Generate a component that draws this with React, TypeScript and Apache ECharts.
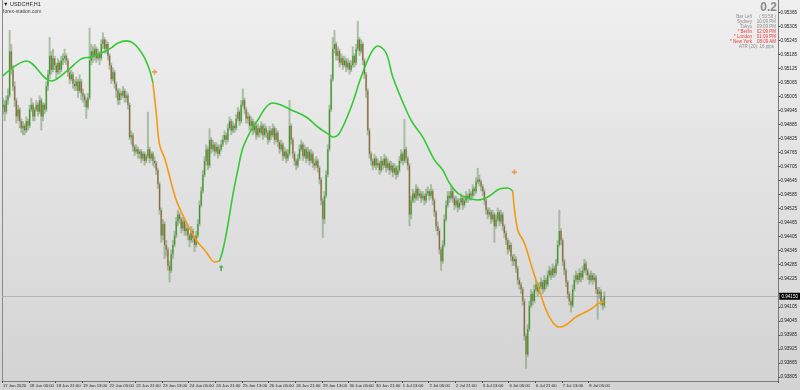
import React, { useEffect, useRef } from 'react';
import * as echarts from 'echarts';

// H1 USDCHF candles (open of each bar = previous close)
const firstOpen = 0.9496;
const closes = [
  0.9497,0.9494,0.9499,0.9501,0.9520,0.9512,0.9505,0.9499,0.9492,0.9495,
  0.9490,0.9487,0.9488,0.9486,0.9490,0.9488,0.9495,0.9497,0.9492,0.9495,
  0.9497,0.9494,0.9499,0.9492,0.9497,0.9495,0.9505,0.9510,0.9518,0.9512,
  0.9517,0.9514,0.9511,0.9515,0.9512,0.9516,0.9517,0.9518,0.9516,0.9511,
  0.9508,0.9510,0.9506,0.9505,0.9507,0.9503,0.9507,0.9502,0.9501,0.9499,
  0.9496,0.9500,0.9516,0.9520,0.9518,0.9521,0.9517,0.9519,0.9517,0.9523,
  0.9525,0.9521,0.9523,0.9518,0.9514,0.9508,0.9511,0.9506,0.9503,0.9499,
  0.9502,0.9501,0.9503,0.9500,0.9501,0.9497,0.9483,0.9484,0.9479,0.9477,
  0.9478,0.9476,0.9477,0.9474,0.9476,0.9473,0.9475,0.9478,0.9474,0.9476,
  0.9473,0.9472,0.9469,0.9463,0.9452,0.9441,0.9446,0.9437,0.9435,0.9428,
  0.9426,0.9433,0.9437,0.9441,0.9447,0.9450,0.9448,0.9444,0.9447,0.9443,
  0.9444,0.9441,0.9439,0.9443,0.9440,0.9437,0.9441,0.9446,0.9454,0.9460,
  0.9467,0.9473,0.9478,0.9471,0.9482,0.9478,0.9480,0.9477,0.9479,0.9476,
  0.9478,0.9480,0.9482,0.9484,0.9482,0.9487,0.9490,0.9486,0.9488,0.9487,
  0.9491,0.9494,0.9490,0.9497,0.9499,0.9495,0.9491,0.9492,0.9488,0.9490,
  0.9486,0.9488,0.9484,0.9487,0.9485,0.9488,0.9484,0.9487,0.9485,0.9482,
  0.9486,0.9484,0.9487,0.9482,0.9485,0.9481,0.9478,0.9480,0.9475,0.9477,
  0.9474,0.9476,0.9488,0.9482,0.9476,0.9473,0.9471,0.9474,0.9478,0.9480,
  0.9475,0.9478,0.9474,0.9477,0.9473,0.9476,0.9472,0.9471,0.9473,0.9470,
  0.9465,0.9456,0.9448,0.9458,0.9467,0.9478,0.9495,0.9508,0.9521,0.9523,
  0.9518,0.9520,0.9515,0.9517,0.9514,0.9516,0.9513,0.9515,0.9512,0.9514,
  0.9518,0.9515,0.9521,0.9525,0.9520,0.9523,0.9516,0.9510,0.9503,0.9486,
  0.9476,0.9473,0.9471,0.9474,0.9471,0.9472,0.9469,0.9473,0.9471,0.9474,
  0.9470,0.9472,0.9469,0.9471,0.9468,0.9470,0.9467,0.9469,0.9473,0.9476,
  0.9473,0.9478,0.9474,0.9471,0.9450,0.9456,0.9459,0.9457,0.9461,0.9458,
  0.9459,0.9457,0.9458,0.9456,0.9459,0.9460,0.9458,0.9460,0.9456,0.9451,
  0.9445,0.9443,0.9435,0.9430,0.9437,0.9448,0.9454,0.9458,0.9457,0.9460,
  0.9457,0.9454,0.9456,0.9453,0.9455,0.9457,0.9454,0.9456,0.9458,0.9457,
  0.9459,0.9458,0.9461,0.9460,0.9464,0.9465,0.9464,0.9462,0.9460,0.9456,
  0.9452,0.9450,0.9451,0.9448,0.9450,0.9445,0.9448,0.9451,0.9447,0.9450,
  0.9445,0.9442,0.9439,0.9435,0.9437,0.9432,0.9430,0.9431,0.9427,0.9422,
  0.9420,0.9418,0.9413,0.9398,0.9390,0.9401,0.9411,0.9416,0.9413,0.9418,
  0.9420,0.9417,0.9419,0.9421,0.9418,0.9422,0.9420,0.9424,0.9426,0.9424,
  0.9427,0.9425,0.9429,0.9437,0.9443,0.9439,0.9430,0.9426,0.9421,0.9416,
  0.9413,0.9411,0.9418,0.9422,0.9424,0.9422,0.9425,0.9423,0.9426,0.9429,
  0.9426,0.9424,0.9422,0.9424,0.9422,0.9423,0.9418,0.9416,0.9417,0.9413,
  0.9411,0.9415,
];
const highs = [
  0.9500,0.9499,0.9501,0.9504,0.9529,0.9523,0.9514,0.9507,0.9500,0.9497,
  0.9496,0.9491,0.9490,0.9489,0.9492,0.9491,0.9497,0.9500,0.9498,0.9496,
  0.9499,0.9498,0.9501,0.9500,0.9498,0.9498,0.9507,0.9512,0.9526,0.9520,
  0.9521,0.9518,0.9515,0.9517,0.9516,0.9518,0.9519,0.9521,0.9519,0.9517,
  0.9512,0.9512,0.9511,0.9508,0.9509,0.9508,0.9510,0.9508,0.9504,0.9502,
  0.9500,0.9502,0.9530,0.9523,0.9522,0.9523,0.9522,0.9521,0.9520,0.9525,
  0.9528,0.9526,0.9525,0.9524,0.9519,0.9515,0.9513,0.9512,0.9507,0.9504,
  0.9504,0.9503,0.9505,0.9504,0.9503,0.9502,0.9498,0.9486,0.9485,0.9480,
  0.9480,0.9479,0.9478,0.9478,0.9477,0.9477,0.9476,0.9494,0.9479,0.9477,
  0.9477,0.9475,0.9473,0.9470,0.9464,0.9453,0.9448,0.9447,0.9439,0.9436,
  0.9430,0.9435,0.9439,0.9443,0.9449,0.9452,0.9451,0.9449,0.9449,0.9448,
  0.9446,0.9445,0.9442,0.9445,0.9444,0.9441,0.9443,0.9448,0.9456,0.9462,
  0.9469,0.9475,0.9480,0.9479,0.9487,0.9483,0.9482,0.9481,0.9481,0.9480,
  0.9480,0.9482,0.9484,0.9486,0.9485,0.9489,0.9492,0.9491,0.9490,0.9489,
  0.9493,0.9496,0.9495,0.9499,0.9504,0.9500,0.9496,0.9494,0.9493,0.9492,
  0.9491,0.9490,0.9489,0.9489,0.9488,0.9490,0.9489,0.9489,0.9488,0.9486,
  0.9488,0.9487,0.9489,0.9488,0.9487,0.9486,0.9482,0.9482,0.9481,0.9479,
  0.9478,0.9478,0.9499,0.9489,0.9483,0.9477,0.9474,0.9476,0.9480,0.9482,
  0.9481,0.9480,0.9479,0.9479,0.9478,0.9478,0.9477,0.9474,0.9475,0.9474,
  0.9471,0.9466,0.9457,0.9460,0.9469,0.9480,0.9497,0.9510,0.9526,0.9529,
  0.9524,0.9522,0.9521,0.9519,0.9518,0.9518,0.9517,0.9517,0.9516,0.9516,
  0.9522,0.9519,0.9523,0.9533,0.9526,0.9525,0.9524,0.9517,0.9511,0.9504,
  0.9487,0.9477,0.9474,0.9476,0.9475,0.9474,0.9473,0.9475,0.9474,0.9476,
  0.9475,0.9474,0.9473,0.9473,0.9472,0.9472,0.9471,0.9471,0.9475,0.9478,
  0.9477,0.9491,0.9479,0.9475,0.9472,0.9458,0.9461,0.9460,0.9463,0.9462,
  0.9461,0.9460,0.9460,0.9459,0.9461,0.9462,0.9461,0.9463,0.9461,0.9457,
  0.9452,0.9447,0.9444,0.9436,0.9439,0.9450,0.9456,0.9460,0.9460,0.9462,
  0.9461,0.9458,0.9458,0.9457,0.9457,0.9459,0.9458,0.9458,0.9460,0.9459,
  0.9461,0.9460,0.9463,0.9462,0.9466,0.9470,0.9467,0.9465,0.9463,0.9461,
  0.9457,0.9453,0.9453,0.9452,0.9452,0.9451,0.9450,0.9453,0.9452,0.9452,
  0.9451,0.9446,0.9443,0.9440,0.9439,0.9438,0.9433,0.9433,0.9432,0.9428,
  0.9423,0.9421,0.9419,0.9414,0.9399,0.9403,0.9413,0.9418,0.9417,0.9420,
  0.9422,0.9421,0.9421,0.9423,0.9422,0.9424,0.9423,0.9426,0.9428,0.9427,
  0.9429,0.9428,0.9431,0.9439,0.9452,0.9444,0.9440,0.9431,0.9427,0.9422,
  0.9417,0.9414,0.9420,0.9424,0.9426,0.9425,0.9427,0.9426,0.9428,0.9431,
  0.9430,0.9427,0.9425,0.9426,0.9425,0.9425,0.9424,0.9419,0.9419,0.9418,
  0.9414,0.9417,
];
const lows = [
  0.9493,0.9490,0.9493,0.9497,0.9500,0.9510,0.9503,0.9496,0.9489,0.9490,
  0.9487,0.9485,0.9484,0.9484,0.9485,0.9486,0.9487,0.9494,0.9490,0.9490,
  0.9494,0.9492,0.9493,0.9486,0.9490,0.9493,0.9494,0.9503,0.9508,0.9510,
  0.9511,0.9512,0.9508,0.9510,0.9510,0.9511,0.9514,0.9515,0.9514,0.9509,
  0.9506,0.9507,0.9504,0.9503,0.9503,0.9500,0.9502,0.9499,0.9498,0.9496,
  0.9491,0.9495,0.9499,0.9514,0.9515,0.9516,0.9515,0.9516,0.9514,0.9516,
  0.9521,0.9519,0.9519,0.9516,0.9512,0.9506,0.9507,0.9504,0.9500,0.9497,
  0.9497,0.9499,0.9500,0.9498,0.9498,0.9495,0.9482,0.9480,0.9477,0.9475,
  0.9476,0.9474,0.9474,0.9472,0.9473,0.9471,0.9472,0.9474,0.9472,0.9473,
  0.9471,0.9470,0.9467,0.9461,0.9450,0.9438,0.9439,0.9431,0.9432,0.9426,
  0.9421,0.9425,0.9431,0.9436,0.9440,0.9445,0.9446,0.9442,0.9443,0.9441,
  0.9441,0.9439,0.9436,0.9438,0.9438,0.9434,0.9436,0.9440,0.9445,0.9453,
  0.9459,0.9466,0.9471,0.9469,0.9470,0.9476,0.9477,0.9475,0.9476,0.9474,
  0.9475,0.9477,0.9479,0.9481,0.9480,0.9481,0.9486,0.9484,0.9485,0.9485,
  0.9486,0.9490,0.9488,0.9489,0.9496,0.9493,0.9489,0.9489,0.9486,0.9486,
  0.9484,0.9485,0.9482,0.9483,0.9483,0.9484,0.9482,0.9483,0.9483,0.9480,
  0.9481,0.9482,0.9483,0.9480,0.9481,0.9479,0.9476,0.9477,0.9473,0.9474,
  0.9472,0.9473,0.9475,0.9480,0.9474,0.9471,0.9469,0.9470,0.9473,0.9477,
  0.9473,0.9474,0.9472,0.9473,0.9471,0.9472,0.9470,0.9469,0.9470,0.9468,
  0.9463,0.9454,0.9440,0.9446,0.9457,0.9466,0.9477,0.9494,0.9507,0.9519,
  0.9516,0.9516,0.9513,0.9514,0.9512,0.9513,0.9511,0.9512,0.9510,0.9511,
  0.9513,0.9513,0.9514,0.9520,0.9518,0.9519,0.9514,0.9508,0.9500,0.9484,
  0.9474,0.9471,0.9469,0.9470,0.9469,0.9470,0.9467,0.9468,0.9469,0.9470,
  0.9468,0.9469,0.9467,0.9468,0.9466,0.9467,0.9465,0.9466,0.9468,0.9472,
  0.9471,0.9472,0.9472,0.9469,0.9445,0.9448,0.9455,0.9455,0.9456,0.9456,
  0.9457,0.9455,0.9456,0.9454,0.9455,0.9458,0.9456,0.9457,0.9454,0.9449,
  0.9443,0.9441,0.9433,0.9426,0.9429,0.9436,0.9447,0.9453,0.9455,0.9456,
  0.9455,0.9452,0.9453,0.9451,0.9452,0.9454,0.9452,0.9453,0.9455,0.9455,
  0.9456,0.9456,0.9457,0.9458,0.9459,0.9463,0.9462,0.9460,0.9458,0.9454,
  0.9450,0.9448,0.9449,0.9446,0.9447,0.9438,0.9444,0.9447,0.9445,0.9446,
  0.9443,0.9440,0.9437,0.9433,0.9434,0.9430,0.9428,0.9428,0.9425,0.9420,
  0.9418,0.9416,0.9411,0.9396,0.9384,0.9389,0.9400,0.9410,0.9411,0.9412,
  0.9417,0.9415,0.9416,0.9418,0.9416,0.9417,0.9418,0.9419,0.9423,0.9422,
  0.9423,0.9423,0.9424,0.9428,0.9436,0.9437,0.9428,0.9424,0.9419,0.9414,
  0.9411,0.9408,0.9410,0.9417,0.9421,0.9420,0.9421,0.9421,0.9422,0.9425,
  0.9424,0.9422,0.9420,0.9421,0.9420,0.9421,0.9416,0.9405,0.9414,0.9411,
  0.9409,0.9410,
];

// Moving average (bar index / value), split into its green and orange segments
const maGreen1Bars = [0, 14, 29, 39, 47, 53, 59, 65, 69, 74, 78, 82, 85, 88, 90];
const maGreen1 = [0.95094, 0.95158, 0.95072, 0.95119, 0.95167, 0.95175, 0.95192, 0.95214, 0.95235, 0.95244, 0.95235, 0.95205, 0.95171, 0.95119, 0.95064];
const maOrange1Bars = [90, 92, 94, 97, 99, 104, 110, 116, 122, 127, 130];
const maOrange1 = [0.95064, 0.94935, 0.94798, 0.94742, 0.94691, 0.94562, 0.94468, 0.94391, 0.94339, 0.94297, 0.94301];
const maGreen2Bars = [130, 132, 135, 138, 141, 144, 149, 153, 158, 162, 167, 173, 182, 189, 196, 198, 202, 209, 215, 221, 225, 230, 234, 242, 246, 252, 259, 264, 268, 273, 279, 285, 291, 298, 303, 306];
const maGreen2 = [0.94301, 0.94348, 0.94455, 0.94584, 0.94691, 0.94785, 0.94862, 0.94905, 0.94961, 0.94978, 0.94969, 0.94948, 0.94918, 0.94875, 0.94841, 0.94832, 0.94849, 0.94961, 0.95089, 0.95192, 0.95222, 0.95192, 0.95089, 0.94948, 0.94892, 0.94832, 0.94734, 0.94691, 0.94635, 0.94592, 0.94571, 0.94562, 0.94575, 0.94609, 0.94614, 0.94601];
const maOrange2Bars = [306, 309, 313, 318, 322, 326, 330, 334, 338, 344, 352, 358, 361];
const maOrange2 = [0.94601, 0.94434, 0.94378, 0.94262, 0.94177, 0.94091, 0.94039, 0.94018, 0.94027, 0.94061, 0.94091, 0.94121, 0.94125];

// Signal markers
const sellSignalBars = [91, 307];
const sellSignalPrices = [0.95111, 0.94682];
const buySignalBars = [131];
const buySignalPrices = [0.94271];

// Axis labels (the 0.94165 label is hidden by the current-price box in the reference)
const xTickLabels = ['17 Jun 2020', '18 Jun 05:00', '18 Jun 21:00', '19 Jun 13:00', '22 Jun 05:00', '22 Jun 21:00', '23 Jun 13:00', '24 Jun 05:00', '24 Jun 21:00', '25 Jun 13:00', '26 Jun 05:00', '26 Jun 21:00', '29 Jun 13:00', '30 Jun 05:00', '30 Jun 21:00', '1 Jul 13:00', '2 Jul 05:00', '2 Jul 21:00', '3 Jul 13:00', '6 Jul 05:00', '6 Jul 21:00', '7 Jul 13:00', '8 Jul 05:00'];
const priceTicks = [0.93805, 0.93865, 0.93925, 0.93985, 0.94045, 0.94105, 0.94165, 0.94225, 0.94285, 0.94345, 0.94405, 0.94465, 0.94525, 0.94585, 0.94645, 0.94705, 0.94765, 0.94825, 0.94885, 0.94945, 0.95005, 0.95065, 0.95125, 0.95185, 0.95245, 0.95305, 0.95365];
const priceLabels = [0.93805, 0.93865, 0.93925, 0.93985, 0.94045, 0.94105, 0.94225, 0.94285, 0.94345, 0.94405, 0.94465, 0.94525, 0.94585, 0.94645, 0.94705, 0.94765, 0.94825, 0.94885, 0.94945, 0.95005, 0.95065, 0.95125, 0.95185, 0.95245, 0.95305, 0.95365];

// Info panel
const infoLabels = ['Bar Left', 'Sydney', 'Tokyo', '* Berlin', '* London', '* New York'];
const infoValues = ['( 50:58 )', '10:09 PM', '09:09 PM', '02:09 PM', '01:09 PM', '08:09 AM'];
const infoRed = [false, false, false, true, true, true];
const atrText = 'ATR (20): 16 pips';
const spreadText = '0.2';

const TOTAL_SLOTS = 466;
const TICK_STEP = 16;

export default function App() {
  const ref = useRef<HTMLDivElement>(null);
  useEffect(() => {
    if (!ref.current) return;
    const chart = echarts.init(ref.current, undefined, { renderer: 'svg' });
    const opens = closes.map((_, i) => (i === 0 ? firstOpen : closes[i - 1]));
    const candleData = closes.map((c, i) => [i, opens[i], c, lows[i], highs[i]]);
    const cats = Array.from({ length: TOTAL_SLOTS }, (_, i) => String(i));
    const pair = (bars: number[], vals: number[]) => bars.map((b, i) => [b, vals[i]]);
    const font = 'Liberation Sans, Arial, sans-serif';
    const showTick = (i: number) => i % TICK_STEP === 0 && i / TICK_STEP < xTickLabels.length;
    const lastClose = closes[closes.length - 1];
    const maLine = (name: string, data: number[][], color: string, extra: any = {}) => ({
      type: 'line', name, data, symbol: 'none', smooth: 0.35, z: 4,
      lineStyle: { color, width: 1.6 }, silent: true, ...extra,
    });
    const graphics: any[] = [
      {
        type: 'rect', z: -10, silent: true, shape: { x: 0, y: 0, width: 800, height: 390 },
        style: { fill: new echarts.graphic.LinearGradient(0, 0, 0, 1, [{ offset: 0, color: '#efefef' }, { offset: 1, color: '#d3d3d3' }]) },
      },
      { type: 'text', x: 3, y: 1, style: { text: '▼ USDCHF,H1', fontSize: 5.5, fill: '#222', fontFamily: font } },
      { type: 'text', x: 3, y: 8, style: { text: 'forex-station.com', fontSize: 5, fill: '#444', fontFamily: font } },
      { type: 'text', x: 777, y: 1, style: { text: spreadText, align: 'right', fontSize: 12, fontWeight: 'bold', fill: '#8a8a8a', fontFamily: font } },
    ];
    infoLabels.forEach((lab, i) => {
      const col = infoRed[i] ? '#e83a3a' : '#8c8c8c';
      graphics.push({ type: 'text', x: 752, y: 14 + i * 5, style: { text: lab, align: 'right', fontSize: 4.5, fill: col, fontFamily: font } });
      graphics.push({ type: 'text', x: 776, y: 14 + i * 5, style: { text: infoValues[i], align: 'right', fontSize: 4.5, fill: col, fontFamily: font } });
    });
    graphics.push({ type: 'text', x: 774, y: 44, style: { text: atrText, align: 'right', fontSize: 4.5, fill: '#8c8c8c', fontFamily: font } });

    chart.setOption({
      animation: false,
      graphic: graphics,
      grid: { left: 2, right: 19, top: 0, bottom: 9, containLabel: false },
      xAxis: {
        type: 'category', data: cats, boundaryGap: true,
        axisLine: { show: true, lineStyle: { color: '#7a7a7a', width: 1 } },
        axisTick: { show: true, interval: (i: number) => showTick(i), length: 2, lineStyle: { color: '#555' } },
        axisLabel: {
          interval: (i: number) => showTick(i), showMinLabel: true,
          formatter: (_v: string, i: number) => (showTick(i) ? xTickLabels[i / TICK_STEP] : ''),
          fontSize: 4.2, color: '#222', align: 'left', margin: 2, fontFamily: font,
        },
        splitLine: { show: false },
      },
      yAxis: [
        {
          type: 'value', position: 'right', min: 0.93787, max: 0.95419,
          axisLine: { show: true, lineStyle: { color: '#7a7a7a', width: 1 } },
          axisTick: { show: true, length: 2, customValues: priceTicks, lineStyle: { color: '#555' } },
          axisLabel: { customValues: priceLabels, formatter: (v: number) => v.toFixed(5), fontSize: 4.6, color: '#222', margin: 2, fontFamily: font },
          splitLine: { show: false },
        },
        {
          type: 'value', position: 'left', min: 0.93787, max: 0.95419,
          axisLine: { show: true, onZero: false, lineStyle: { color: '#8a8a8a', width: 1 } },
          axisTick: { show: false }, axisLabel: { show: false }, splitLine: { show: false },
        },
      ],
      series: [
        {
          type: 'custom', name: 'USDCHF', data: candleData, encode: { x: 0, y: [1, 2, 3, 4] }, clip: true, z: 3,
          renderItem: (_p: any, api: any) => {
            const i = api.value(0);
            const o = api.value(1), c = api.value(2), l = api.value(3), h = api.value(4);
            const pO = api.coord([i, o]), pC = api.coord([i, c]);
            const pL = api.coord([i, l]), pH = api.coord([i, h]);
            const x = pO[0];
            const up = c >= o;
            const top = Math.min(pO[1], pC[1]);
            return {
              type: 'group',
              children: [
                { type: 'rect', shape: { x: x - 1, y: pH[1], width: 2, height: Math.max(1, pL[1] - pH[1]) }, style: { fill: 'rgba(112,150,100,0.5)' } },
                { type: 'rect', shape: { x: x - 0.6, y: top, width: 1.2, height: Math.max(1, Math.abs(pO[1] - pC[1])) }, style: { fill: up ? '#3c9a2a' : '#94683c' } },
              ],
            };
          },
        },
        maLine('MA up 1', pair(maGreen1Bars, maGreen1), '#35c935'),
        maLine('MA down 1', pair(maOrange1Bars, maOrange1), '#f29a12'),
        maLine('MA up 2', pair(maGreen2Bars, maGreen2), '#35c935'),
        maLine('MA down 2', pair(maOrange2Bars, maOrange2), '#f29a12', {
          markLine: {
            silent: true, symbol: 'none', z: 1, precision: 5,
            lineStyle: { color: '#b5b5b5', width: 1, type: 'solid' },
            label: {
              position: 'end', formatter: () => lastClose.toFixed(5),
              backgroundColor: '#000', color: '#fff', fontSize: 4.6, padding: [1, 2], distance: 1, fontFamily: font,
            },
            data: [{ yAxis: lastClose }],
          },
        }),
        {
          type: 'scatter', name: 'Sell signal', data: pair(sellSignalBars, sellSignalPrices), z: 5,
          symbol: 'path://M2 0h2v2h2v2h-2v2h-2v-2h-2v-2h2z', symbolSize: 5,
          itemStyle: { color: '#f08a30' },
        },
        {
          type: 'scatter', name: 'Buy signal', data: pair(buySignalBars, buySignalPrices), z: 5,
          symbol: 'path://M3 0L6 3H4V7H2V3H0Z', symbolSize: [5, 6],
          itemStyle: { color: '#2e9e3e' },
        },
      ],
    });
    return () => chart.dispose();
  }, []);
  return <div ref={ref} style={{ position: 'fixed', left: 0, top: 0, width: 800, height: 390 }} />;
}
